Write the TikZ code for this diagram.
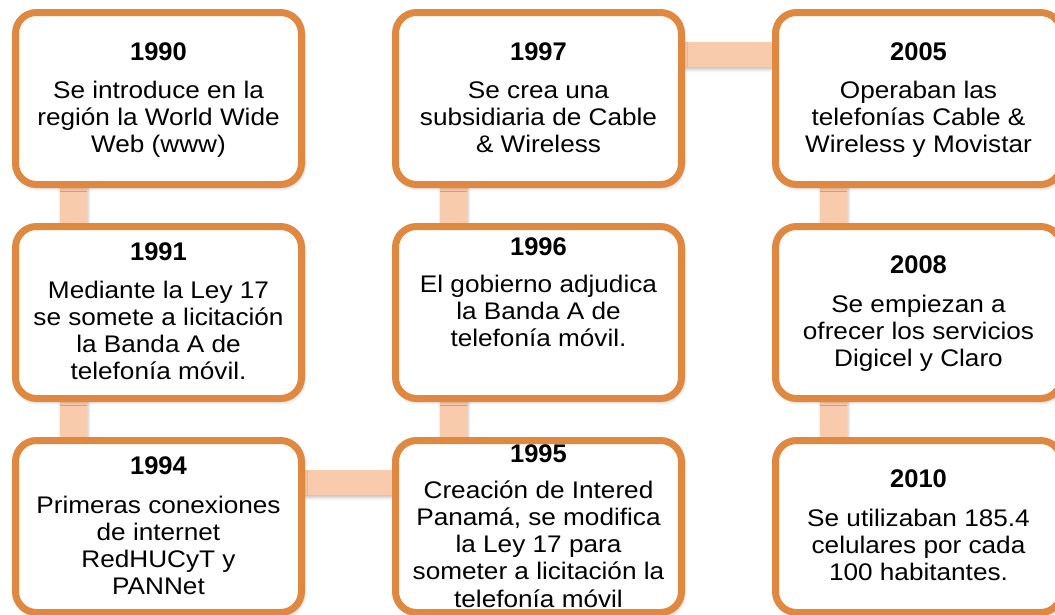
\documentclass[tikz,border=0pt]{standalone}
\usepackage{fontspec}
\setmainfont{Liberation Sans}[FakeStretch=1.09]
\newfontfamily\yearfont{Liberation Sans}
\usetikzlibrary{calc,shadows.blur}
\pgfdeclarelayer{bg}
\pgfsetlayers{bg,main}
\definecolor{boxorange}{RGB}{224,135,64}
\definecolor{barpeach}{RGB}{248,203,173}
\tikzset{
  evbox/.style={draw=boxorange, line width=7pt, fill=white, rounded corners=21pt,
    minimum width=286pt, minimum height=172pt, inner sep=0pt, outer sep=0pt,
    blur shadow={shadow xshift=1.5pt, shadow yshift=-3pt, shadow blur radius=4pt, shadow opacity=30}},
  bar/.style={fill=barpeach, draw=none,
    blur shadow={shadow xshift=1pt, shadow yshift=-2.5pt, shadow blur radius=3pt, shadow opacity=25}},
  yeartxt/.style={anchor=base, inner sep=0pt, font=\yearfont\bfseries\fontsize{25.5}{28}\selectfont},
  bodytxt/.style={anchor=base, inner sep=0pt, align=center, font=\fontsize{24}{27.3}\selectfont}
}
\begin{document}
\begin{tikzpicture}[x=1pt, y=-1pt]
\useasboundingbox (0,0) rectangle (1055,614);
\clip (0,0) rectangle (1055,614);
% boxes
\node[evbox] (b90) at (158.5,98.5) {};
\node[evbox] (b91) at (158.5,312.5) {};
\node[evbox] (b94) at (158.5,526.5) {};
\node[evbox] (b97) at (538.5,98.5) {};
\node[evbox] (b96) at (538.5,312.5) {};
\node[evbox] (b95) at (538.5,526.5) {};
\node[evbox] (b05) at (918.5,98.5) {};
\node[evbox] (b08) at (918.5,312.5) {};
\node[evbox] (b10) at (918.5,526.5) {};
% connectors behind boxes
\begin{pgfonlayer}{bg}
\fill[bar] ($(b90.south west)+(44.5,-5)$) rectangle ($(b91.north west)+(71.5,5)$);
\fill[bar] ($(b91.south west)+(44.5,-5)$) rectangle ($(b94.north west)+(71.5,5)$);
\fill[bar] ($(b94.north east)+(-5,29.5)$) rectangle ($(b95.north west)+(5,54.5)$);
\fill[bar] ($(b95.north west)+(44.5,5)$) rectangle ($(b96.south west)+(71.5,-5)$);
\fill[bar] ($(b96.north west)+(44.5,5)$) rectangle ($(b97.south west)+(71.5,-5)$);
\fill[bar] ($(b97.north east)+(-5,29.5)$) rectangle ($(b05.north west)+(5,54.5)$);
\fill[bar] ($(b05.south west)+(44.5,-5)$) rectangle ($(b08.north west)+(71.5,5)$);
\fill[bar] ($(b08.south west)+(44.5,-5)$) rectangle ($(b10.north west)+(71.5,5)$);
\end{pgfonlayer}
% texts (body nodes anchored at the baseline of their last line)
\node[yeartxt] (y90) at (158.5,60) {1990};
\node[bodytxt] (t90) at (158.5,152.6) {Se introduce en la\\región la World Wide\\Web (www)};
\node[yeartxt] (y91) at (158.5,260) {1991};
\node[bodytxt] (t91) at (158.5,379.9) {Mediante la Ley 17\\se somete a licitación\\la Banda A de\\telefonía móvil.};
\node[yeartxt] (y94) at (158.5,474) {1994};
\node[bodytxt] (t94) at (158.5,594.9) {Primeras conexiones\\de internet\\RedHUCyT y\\PANNet};
\node[yeartxt] (y97) at (538.5,60) {1997};
\node[bodytxt] (t97) at (538.5,152.6) {Se crea una\\subsidiaria de Cable\\\& Wireless};
\node[yeartxt] (y96) at (538.5,255) {1996};
\node[bodytxt] (t96) at (538.5,346.6) {El gobierno adjudica\\la Banda A de\\telefonía móvil.};
\node[yeartxt] (y95) at (538.5,462) {1995};
\node[bodytxt] (t95) at (538.5,607.2) {Creación de Intered\\Panamá, se modifica\\la Ley 17 para\\someter a licitación la\\telefonía móvil};
\node[yeartxt] (y05) at (918.5,60) {2005};
\node[bodytxt] (t05) at (918.5,152.6) {Operaban las\\telefonías Cable \&\\Wireless y Movistar};
\node[yeartxt] (y08) at (918.5,273) {2008};
\node[bodytxt] (t08) at (918.5,366.6) {Se empiezan a\\ofrecer los servicios\\Digicel y Claro};
\node[yeartxt] (y10) at (918.5,487) {2010};
\node[bodytxt] (t10) at (918.5,580.6) {Se utilizaban 185.4\\celulares por cada\\100 habitantes.};
\end{tikzpicture}
\end{document}
